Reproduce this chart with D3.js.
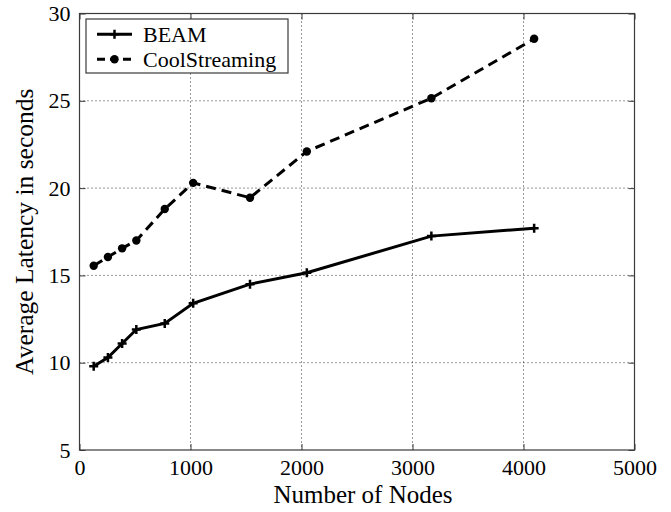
<!DOCTYPE html>
<html>
<head>
<meta charset="utf-8">
<script src="https://cdn.jsdelivr.net/npm/d3@7"></script>
<style>
  html, body { margin: 0; padding: 0; background: #fff; }
  svg { display: block; font-family: "Liberation Serif", "Times New Roman", serif; }
</style>
</head>
<body>
<svg id="chart" width="671" height="512"></svg>
<script>
// Network size (number of nodes) at each measurement
const nodes = [128, 256, 384, 512, 768, 1024, 1536, 2048, 3170, 4096];
// Average latency in seconds
const beamLatency = [9.8, 10.3, 11.1, 11.9, 12.25, 13.4, 14.5, 15.15, 17.25, 17.7];
const coolLatency = [15.55, 16.05, 16.55, 17.0, 18.8, 20.3, 19.45, 22.1, 25.15, 28.55];
const xTicks = [0, 1000, 2000, 3000, 4000, 5000];
const yTicks = [5, 10, 15, 20, 25, 30];
const seriesNames = ["BEAM", "CoolStreaming"];

const svg = d3.select("#chart");
const plotL = 79.5, plotR = 634.5, plotT = 13.5, plotB = 450;

const x = d3.scaleLinear().domain([0, 5000]).range([plotL, plotR]);
const y = d3.scaleLinear().domain([5, 30]).range([plotB, plotT]);

const frameColor = "#3a3a3a";
const tickLen = 6;

// Dotted grid
const grid = svg.append("g");
grid.selectAll("line.vx").data(xTicks.slice(1, -1)).join("line")
  .attr("x1", d => x(d)).attr("x2", d => x(d))
  .attr("y1", plotT).attr("y2", plotB)
  .attr("stroke", "#333").attr("stroke-width", 1).attr("stroke-dasharray", "1,3");
grid.selectAll("line.hy").data(yTicks.slice(1, -1)).join("line")
  .attr("x1", plotL).attr("x2", plotR)
  .attr("y1", d => y(d)).attr("y2", d => y(d))
  .attr("stroke", "#333").attr("stroke-width", 1).attr("stroke-dasharray", "1,3");

// Axes with inward ticks on all four sides
const axBottom = svg.append("g").attr("transform", `translate(0,${plotB})`)
  .call(d3.axisBottom(x).tickValues(xTicks).tickFormat(d3.format("d")).tickSizeInner(-tickLen).tickSizeOuter(0).tickPadding(9));
const axLeft = svg.append("g").attr("transform", `translate(${plotL},0)`)
  .call(d3.axisLeft(y).tickValues(yTicks).tickFormat(d3.format("d")).tickSizeInner(-tickLen).tickSizeOuter(0).tickPadding(9));
const axTop = svg.append("g").attr("transform", `translate(0,${plotT})`)
  .call(d3.axisTop(x).tickValues(xTicks).tickFormat("").tickSizeInner(-tickLen).tickSizeOuter(0));
const axRight = svg.append("g").attr("transform", `translate(${plotR},0)`)
  .call(d3.axisRight(y).tickValues(yTicks).tickFormat("").tickSizeInner(-tickLen).tickSizeOuter(0));

[axBottom, axLeft, axTop, axRight].forEach(g => {
  g.select(".domain").remove();
  g.selectAll(".tick line").attr("stroke", frameColor);
  g.selectAll("text").attr("fill", "#000").style("font-size", "22px")
    .style("font-family", "'Liberation Serif', 'Times New Roman', serif");
});

// Plot frame
svg.append("rect")
  .attr("x", plotL).attr("y", plotT)
  .attr("width", plotR - plotL).attr("height", plotB - plotT)
  .attr("fill", "none").attr("stroke", frameColor).attr("stroke-width", 1.2);

// Series lines
const lineGen = d3.line().x(d => x(d[0])).y(d => y(d[1]));
const beamPts = nodes.map((n, i) => [n, beamLatency[i]]);
const coolPts = nodes.map((n, i) => [n, coolLatency[i]]);

svg.append("path").datum(coolPts).attr("d", lineGen)
  .attr("fill", "none").attr("stroke", "#000").attr("stroke-width", 3)
  .attr("stroke-dasharray", "10,6");
svg.append("path").datum(beamPts).attr("d", lineGen)
  .attr("fill", "none").attr("stroke", "#000").attr("stroke-width", 3);

// Markers
function plusPath(cx, cy, s) {
  return `M${cx - s},${cy}H${cx + s}M${cx},${cy - s}V${cy + s}`;
}
svg.append("g").selectAll("path").data(beamPts).join("path")
  .attr("d", d => plusPath(x(d[0]), y(d[1]), 4.5))
  .attr("stroke", "#000").attr("stroke-width", 2.5).attr("fill", "none");
svg.append("g").selectAll("circle").data(coolPts).join("circle")
  .attr("cx", d => x(d[0])).attr("cy", d => y(d[1])).attr("r", 4.2)
  .attr("fill", "#000");

// Axis titles
svg.append("text")
  .attr("x", (plotL + plotR) / 2 + 6).attr("y", 503)
  .attr("text-anchor", "middle").style("font-size", "25px")
  .text("Number of Nodes");
svg.append("text")
  .attr("transform", `translate(33,${(plotT + plotB) / 2}) rotate(-90)`)
  .attr("text-anchor", "middle").style("font-size", "25.5px")
  .text("Average Latency in seconds");

// Legend
const legend = svg.append("g");
legend.append("rect")
  .attr("x", 86).attr("y", 19).attr("width", 202).attr("height", 54)
  .attr("fill", "#fff").attr("stroke", frameColor).attr("stroke-width", 1.2);
const rowsY = [34.3, 59.3];
seriesNames.forEach((name, i) => {
  const ly = rowsY[i];
  legend.append("line")
    .attr("x1", 97).attr("x2", 132).attr("y1", ly).attr("y2", ly)
    .attr("stroke", "#000").attr("stroke-width", 3)
    .attr("stroke-dasharray", i === 0 ? null : "8,5");
  if (i === 0) {
    legend.append("path").attr("d", plusPath(114.5, ly, 4.5))
      .attr("stroke", "#000").attr("stroke-width", 2.5);
  } else {
    legend.append("circle").attr("cx", 114.5).attr("cy", ly).attr("r", 4.2).attr("fill", "#000");
  }
  legend.append("text")
    .attr("x", 143).attr("y", ly + 7.5)
    .style("font-size", "22px")
    .text(name);
});
</script>
</body>
</html>
